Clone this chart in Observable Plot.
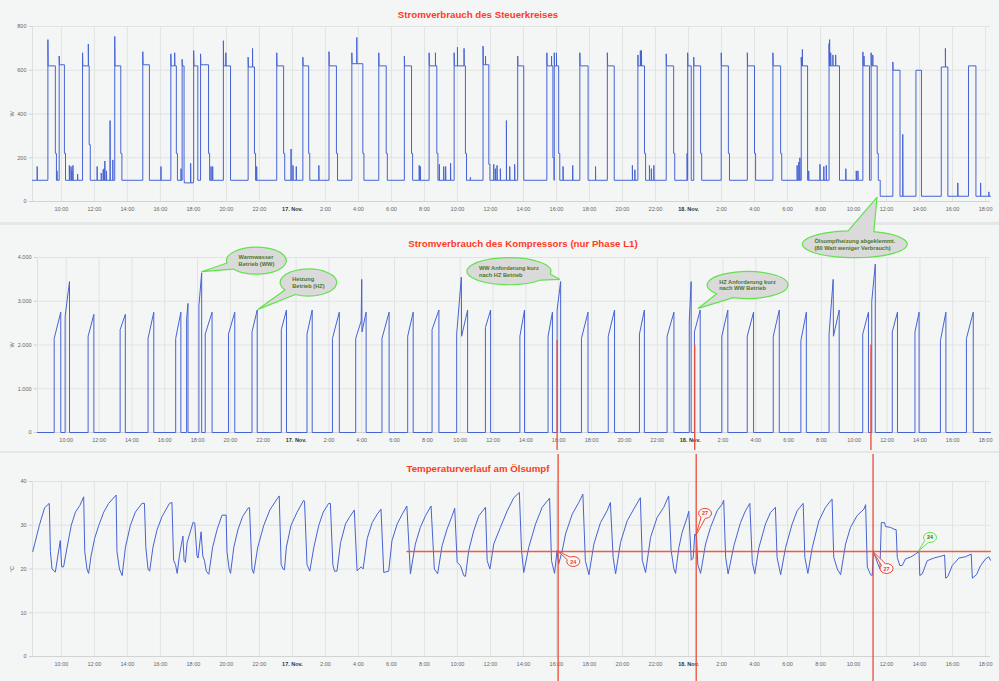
<!DOCTYPE html>
<html><head><meta charset="utf-8">
<script src="https://cdn.jsdelivr.net/npm/d3@7"></script>
<script src="https://cdn.jsdelivr.net/npm/@observablehq/plot@0.6"></script>
<style>
html,body{margin:0;padding:0;background:#f4f5f5;}
#chart{position:relative;width:999px;height:681px;overflow:hidden;background:#f4f5f5;font-family:"Liberation Sans",Arial,sans-serif;}
#chart svg{overflow:visible !important;background:transparent !important;}
.panel{position:absolute;left:0;width:999px;}
.titel{position:absolute;transform:translate(-50%,-50%);white-space:nowrap;font-weight:bold;font-size:9.7px;color:#ff3b24;z-index:2;}
.trenner{position:absolute;left:0;width:999px;background:#e5e6e6;}
</style></head>
<body><div id="chart"></div>
<script>
// ---------- Daten ----------
const zeitraum = ["16 08:15", "18 18:18"];
const xTickZeiten = ["16 10:00","16 12:00","16 14:00","16 16:00","16 18:00","16 20:00","16 22:00",
  "17 00:00","17 02:00","17 04:00","17 06:00","17 08:00","17 10:00","17 12:00","17 14:00","17 16:00","17 18:00","17 20:00","17 22:00",
  "18 00:00","18 02:00","18 04:00","18 06:00","18 08:00","18 10:00","18 12:00","18 14:00","18 16:00","18 18:00"];
const titel = ["Stromverbrauch des Steuerkreises", "Stromverbrauch des Kompressors (nur Phase L1)", "Temperaturverlauf am Ölsumpf"];
const steuerTicks = [0, 200, 400, 600, 800];
const kompressorTicks = [0, 1000, 2000, 3000, 4000];
const temperaturTicks = [0, 10, 20, 30, 40];

// Steuerkreis: Grundlast-Wechsel [Zeit, W]
const steuerGrundlast = [["16 08:15", 97], ["16 17:27", 85], ["16 18:00", 97], ["18 11:37", 24]];
// Steuerkreis: Laufphasen [Beginn, Ende, Plateau W, Anlaufspitze W, Nachlauf W]
const steuerPhasen = [
 ["16 09:11","16 09:38",620,740,220],["16 09:52","16 10:11",625,665,220],["16 11:17","16 11:41",620,680,260],
 ["16 13:14","16 13:36",620,755,220],["16 14:56","16 15:20",625,685,null],["16 16:38","16 16:58",620,675,220],
 ["16 17:19","16 17:26",620,650,null],["16 18:01","16 18:16",620,690,null],["16 18:26","16 18:55",625,675,220],
 ["16 19:49","16 20:15",620,735,null],["16 21:19","16 21:42",615,660,220],["16 23:03","16 23:28",620,680,220],
 ["17 00:38","17 00:59",620,660,220],["17 02:13","17 02:40",620,685,220],["17 03:36","17 04:16",630,680,220],
 ["17 05:14","17 05:41",620,680,220],["17 06:47","17 07:13",620,665,220],["17 08:17","17 08:45",620,680,220],
 ["17 09:48","17 10:29",620,680,220],["17 11:33","17 11:54",625,710,170],["17 13:39","17 14:01",620,665,null],
 ["17 15:25","17 15:47",620,680,200],["17 15:52","17 16:08",620,680,220],["17 17:25","17 17:55",620,680,null],
 ["17 19:05","17 19:30",620,680,null],["17 20:56","17 21:20",620,670,220],["17 22:39","17 23:06",620,675,220],
 ["17 23:57","18 00:10",620,680,null],["18 00:19","18 00:44",620,660,220],["18 01:59","18 02:25",620,680,220],
 ["18 03:34","18 04:00",620,680,220],["18 05:07","18 05:35",620,680,220],["18 06:50","18 07:13",620,660,null],
 ["18 08:31","18 09:09",620,722,null],["18 10:34","18 10:58",620,684,null],["18 11:04","18 11:26",620,680,220],
 ["18 12:23","18 12:49",600,638,null],["18 13:47","18 14:07",600,600,null],["18 15:19","18 15:43",615,615,null],
 ["18 16:58","18 17:25",620,620,null]
];
// Steuerkreis: kurze Spitzen [Zeit, W]
const steuerSpitzen = [
 ["16 08:32",160],["16 09:44",140],["16 10:29",165],["16 10:35",160],["16 10:38",140],["16 10:42",165],["16 10:59",125],
 ["16 11:38",720],["16 12:10",160],["16 12:25",130],["16 12:32",145],["16 12:35",150],["16 12:38",185],["16 12:44",140],
 ["16 12:57",370],["16 13:07",190],["16 16:02",160],["16 16:52",680],["16 17:15",150],["16 17:50",175],["16 19:04",160],
 ["16 19:10",160],["16 19:58",680],["16 21:35",700],["16 21:50",160],["16 23:55",240],["17 00:02",165],["17 00:14",160],
 ["17 01:36",165],["17 03:54",750],["17 07:41",165],["17 07:45",160],["17 08:40",680],["17 08:54",170],["17 09:10",160],
 ["17 09:17",160],["17 09:35",175],["17 10:00",705],["17 10:24",700],["17 10:47",110],["17 11:42",665],["17 12:12",170],
 ["17 12:18",150],["17 12:24",165],["17 12:36",150],["17 12:58",370],["17 13:10",160],["17 13:28",170],["17 15:42",665],
 ["17 16:00",680],["17 16:24",160],["17 16:59",165],["17 18:22",160],["17 20:36",165],["17 20:45",145],["17 21:05",690],
 ["17 21:09",690],["17 21:38",165],["17 21:45",150],["17 21:54",165],["17 23:55",220],["18 06:35",165],["18 06:41",180],
 ["18 06:45",200],["18 06:54",695],["18 07:17",140],["18 07:58",170],["18 08:12",160],["18 08:21",165],["18 08:33",740],
 ["18 08:37",680],["18 08:45",670],["18 08:55",670],["18 09:32",150],["18 10:10",140],["18 10:16",140],["18 10:38",665],
 ["18 11:10",670],["18 12:59",307],["18 15:34",700],["18 16:19",85],["18 17:42",85],["18 18:12",44]
];

// Kompressor: Laeufe als Punktfolgen [Zeit, W]
const kompressorLaeufe = [
 [["16 09:16",2150],["16 09:40",2750]],[["16 09:56",2650],["16 10:12",3450]],[["16 11:20",2200],["16 11:41",2700]],
 [["16 13:17",2350],["16 13:36",2700]],[["16 14:59",2150],["16 15:20",2750]],[["16 16:40",2150],["16 16:59",2750]],
 [["16 17:20",2600],["16 17:25",2950]],[["16 18:05",2900],["16 18:15",3650]],[["16 18:28",2250],["16 18:53",2750]],
 [["16 19:53",2250],["16 20:16",2750]],[["16 21:19",2300],["16 21:38",2800]],[["16 23:06",2350],["16 23:25",2800]],
 [["17 00:40",2250],["17 00:59",2800]],[["17 02:13",2150],["17 02:38",2750]],
 [["17 03:38",2150],["17 03:58",2550],["17 04:00",3500],["17 04:01",2300],["17 04:16",2750]],
 [["17 05:14",2150],["17 05:40",2750]],[["17 06:48",2200],["17 07:08",2750]],[["17 08:17",2350],["17 08:42",2800]],
 [["17 09:47",2250],["17 10:04",3550],["17 10:05",2200],["17 10:27",2800]],
 [["17 11:32",2400],["17 11:51",2800]],[["17 13:38",2200],["17 13:55",2800]],[["17 15:21",2200],["17 15:37",2750]],
 [["17 15:54",2800],["17 16:07",3450]],[["17 17:23",2150],["17 17:47",2750]],[["17 19:01",2200],["17 19:24",2800]],
 [["17 20:55",2250],["17 21:13",2800]],[["17 22:36",2200],["17 23:01",2750]],[["17 23:57",2550],["18 00:04",3450]],
 [["18 00:16",2300],["18 00:37",2800]],[["18 01:56",2200],["18 02:18",2800]],[["18 03:29",2200],["18 03:52",2750]],
 [["18 05:04",2200],["18 05:26",2800]],[["18 06:45",2100],["18 07:05",2750]],
 [["18 08:28",2250],["18 08:43",3500],["18 08:44",2200],["18 09:05",2800]],
 [["18 10:31",2250],["18 10:52",2750]],[["18 11:04",3000],["18 11:17",3850]],[["18 12:19",2300],["18 12:38",2750]],
 [["18 13:42",2300],["18 13:57",2750]],[["18 15:15",2100],["18 15:35",2750]],[["18 16:50",2150],["18 17:15",2750]]
];

// Oelsumpf-Temperatur [Zeit, °C]
const oelsumpfTemperatur = [
 ["16 08:16",24],["16 08:40",30],["16 08:59",34],["16 09:16",35],["16 09:20",24],["16 09:26",20],["16 09:38",19.3],["16 09:56",26.5],
 ["16 10:01",20.5],["16 10:08",20.5],["16 10:21",25],["16 10:36",30],["16 10:51",33],["16 11:07",34.5],["16 11:21",36.5],["16 11:25",24],
 ["16 11:33",20],["16 11:39",19],["16 11:48",23],["16 12:01",27],["16 12:16",30],["16 12:34",33],["16 12:52",35],["16 13:19",36.9],
 ["16 13:22",24],["16 13:31",20],["16 13:41",18.5],["16 13:53",25],["16 14:11",30],["16 14:29",33],["16 14:53",35],["16 15:02",35],
 ["16 15:07",25],["16 15:15",20],["16 15:21",19.5],["16 15:33",25],["16 15:48",29],["16 16:06",32],["16 16:33",35],["16 16:42",35.2],
 ["16 16:48",22],["16 16:55",21],["16 17:01",19],["16 17:09",23],["16 17:16",25.5],["16 17:22",27.5],["16 17:26",22],["16 17:31",21.5],
 ["16 17:37",26],["16 17:59",30.7],["16 18:05",30.5],["16 18:13",23],["16 18:17",22.5],["16 18:28",28.5],["16 18:34",23],["16 18:40",22],
 ["16 18:47",19.5],["16 18:56",18.8],["16 19:10",25],["16 19:26",29],["16 19:44",32.3],["16 19:59",32.3],["16 20:02",24],["16 20:10",20],
 ["16 20:15",19],["16 20:27",25],["16 20:42",29],["16 20:59",32],["16 21:20",34],["16 21:24",34],["16 21:33",20],["16 21:39",19],
 ["16 21:54",25],["16 22:16",30],["16 22:38",33.5],["16 23:04",36],["16 23:12",36.7],["16 23:19",21],["16 23:26",20],["16 23:31",19.8],
 ["16 23:38",25],["16 23:55",30],["17 00:17",33],["17 00:41",35.7],["17 00:44",35.5],["17 00:53",21],["17 01:03",19.5],["17 01:18",25],
 ["17 01:36",30],["17 01:52",33],["17 02:12",35],["17 02:18",35],["17 02:27",21],["17 02:33",19.5],["17 02:42",19.5],["17 02:55",26],
 ["17 03:13",30.3],["17 03:27",31.8],["17 03:43",33.3],["17 03:45",33.5],["17 03:55",19.6],["17 04:10",20.5],["17 04:17",20],["17 04:32",27],
 ["17 04:50",30.6],["17 05:08",32.5],["17 05:22",33.7],["17 05:32",19.2],["17 05:50",19.5],["17 06:02",26.5],["17 06:21",30.3],["17 06:39",32.5],
 ["17 06:56",34.4],["17 07:09",18.9],["17 07:27",25.7],["17 07:45",29.5],["17 08:04",32.2],["17 08:24",34.4],["17 08:36",20],["17 08:48",18.9],
 ["17 09:04",25.3],["17 09:22",29.1],["17 09:41",32.2],["17 09:50",33.9],["17 09:59",21.5],["17 10:11",20.8],["17 10:23",18.5],["17 10:29",18.3],
 ["17 10:41",24.2],["17 10:59",28.7],["17 11:18",32.2],["17 11:42",34.1],["17 11:48",21.9],["17 11:58",20],["17 12:12",25.7],["17 12:36",29.5],
 ["17 13:01",33.3],["17 13:25",36.3],["17 13:45",37.5],["17 13:53",24.2],["17 14:01",19.2],["17 14:19",24.9],["17 14:44",30.3],["17 15:08",34.1],
 ["17 15:35",36.2],["17 15:42",21.9],["17 15:53",19],["17 16:02",24.2],["17 16:08",21.1],["17 16:21",24.2],["17 16:33",28],["17 16:57",32.5],
 ["17 17:21",35.2],["17 17:36",37.1],["17 17:45",21.9],["17 17:58",18.7],["17 18:16",25.7],["17 18:40",30.6],["17 19:04",33.3],["17 19:16",35.2],
 ["17 19:26",22.7],["17 19:35",18.9],["17 19:53",26.1],["17 20:17",31],["17 20:41",33.7],["17 21:05",36.3],["17 21:12",22],["17 21:24",19.2],
 ["17 21:42",27.2],["17 22:06",31.8],["17 22:30",34.1],["17 22:48",36.7],["17 22:57",24.2],["17 23:07",20],["17 23:13",19],["17 23:25",24.9],
 ["17 23:37",28.4],["17 23:55",31.8],["18 00:01",33.2],["18 00:10",22],["18 00:17",22.5],["18 00:23",28],["18 00:29",27.5],["18 00:34",21],
 ["18 00:44",19],["18 01:02",25.7],["18 01:20",29.5],["18 01:44",33.3],["18 02:02",34.8],["18 02:08",35.7],["18 02:15",22.7],["18 02:24",18.9],
 ["18 02:45",25.3],["18 03:09",30.6],["18 03:27",33.3],["18 03:43",35],["18 03:52",21.5],["18 04:01",18.9],["18 04:16",24.9],["18 04:40",30.3],
 ["18 04:58",32.9],["18 05:16",34.1],["18 05:22",22.7],["18 05:35",18.7],["18 05:53",24.9],["18 06:17",30.3],["18 06:35",33.3],["18 06:57",35],
 ["18 07:03",22.7],["18 07:14",19],["18 07:30",24.9],["18 07:54",31],["18 08:18",34.1],["18 08:42",36],["18 08:48",22.7],["18 09:01",20],
 ["18 09:13",18.7],["18 09:31",25.7],["18 09:49",29.5],["18 10:13",32.2],["18 10:38",33.7],["18 10:44",34.7],["18 10:50",20.5],["18 11:02",18.7],
 ["18 11:08",18.5],["18 11:12",23.8],["18 11:20",22.7],["18 11:29",21.1],["18 11:36",20],["18 11:41",30.6],["18 11:53",30.6],["18 11:56",29.7],
 ["18 12:15",29.5],["18 12:27",29.1],["18 12:35",29],["18 12:39",22.7],["18 12:48",20.8],["18 12:57",20.8],["18 13:09",22.3],["18 13:27",22.7],
 ["18 13:45",23.4],["18 13:58",24],["18 14:01",18.5],["18 14:10",18.9],["18 14:28",21.9],["18 14:52",22.5],["18 15:22",23],["18 15:31",23.2],
 ["18 15:35",17.9],["18 15:43",18.3],["18 15:59",20.8],["18 16:23",22.5],["18 16:47",22.8],["18 17:08",23.4],["18 17:12",17.9],["18 17:27",18.7],
 ["18 17:42",20.8],["18 18:00",22.3],["18 18:12",22.8],["18 18:18",22]
];

// Markierungen
const kompressorMarker = [["17 15:54", 2100], ["18 00:17", 2000], ["18 11:01", 2000]];
const temperaturMarker = ["17 16:06", "18 00:28", "18 11:11"];
const referenzWert = 24;
const referenzZeiten = ["17 06:57", "18 18:17"];
const kompressorHinweise = [
 {text: ["Warmwasser", "Betrieb (WW)"], x: "16 21:37", y: 3915, spitzeX: "16 18:17", spitzeY: 3664},
 {text: ["Heizung", "Betrieb (HZ)"], x: "17 00:47", y: 3417, spitzeX: "16 21:43", spitzeY: 2804},
 {text: ["WW Anforderung kurz", "nach HZ Betrieb"], x: "17 13:00", y: 3675, spitzeX: "17 16:05", spitzeY: 3490},
 {text: ["HZ Anforderung kurz", "nach WW Betrieb"], x: "18 03:32", y: 3360, spitzeX: "18 00:32", spitzeY: 2827},
 {text: ["Ölsumpfheizung abgeklemmt.", "(80 Watt weniger Verbrauch)"], x: "18 10:04", y: 4293, spitzeX: "18 11:25", spitzeY: 5365}
];
const temperaturHinweise = [
 {text: ["24"], x: "17 17:03", y: 21.6, spitzeX: "17 16:06", spitzeY: 24, art: "rot"},
 {text: ["27"], x: "18 01:02", y: 32.6, spitzeX: "18 00:28", spitzeY: 27.5, art: "rot"},
 {text: ["27"], x: "18 12:02", y: 20, spitzeX: "18 11:11", spitzeY: 24, art: "rot"},
 {text: ["24"], x: "18 14:40", y: 27.1, spitzeX: "18 13:58", spitzeY: 24, art: "gruen"}
];

// ---------- Hilfen ----------
const T = s => { const [d, hm] = s.split(" "); const [h, m] = hm.split(":").map(Number); return new Date(Date.UTC(2023, 10, +d, h, m)); };
const MIN = 60000;
const FONT = "'Liberation Sans', Arial, sans-serif";
const BLAU = "#4663d4", ROT = "#ec4a36", GRID = "#e2e3e3";
const xDomain = zeitraum.map(T);
const xTicks = xTickZeiten.map(T);
const normalTicks = xTicks.filter(d => d.getUTCHours() !== 0);
const mitternacht = xTicks.filter(d => d.getUTCHours() === 0);
const fmtX = d => d.getUTCHours() === 0 ? `${d.getUTCDate()}. Nov.` : `${d.getUTCHours()}:00`;
const fmtW = d => d === 0 ? "0" : d3.format(",")(d).replace(/,/g, ".");

// Steuerkreis-Reihe aus Phasen/Spitzen
function steuerReihe() {
  const phasen = steuerPhasen.map(([a, e, p, s, n]) => ({a: T(a), e: T(e), p, s, n}));
  const grund = steuerGrundlast.map(([z, w]) => [T(z), w]);
  const basis = t => { let v = grund[0][1]; for (const [z, w] of grund) if (z <= t) v = w; return v; };
  const niveau = t => { const q = phasen.find(q => q.a <= t && t <= q.e); return q ? q.p : basis(t); };
  const pts = [{t: xDomain[0], v: basis(xDomain[0])}];
  for (const q of phasen) {
    pts.push({t: q.a, v: basis(q.a)}, {t: q.a, v: q.s}, {t: new Date(+q.a + MIN), v: q.p}, {t: q.e, v: q.p});
    if (q.n != null) { const e2 = new Date(+q.e + 4 * MIN); pts.push({t: q.e, v: q.n}, {t: e2, v: q.n}, {t: e2, v: basis(e2)}); }
    else pts.push({t: q.e, v: basis(q.e)});
  }
  for (const [z, w] of steuerSpitzen) { const t = T(z), b = niveau(t); pts.push({t, v: b}, {t, v: w}, {t: new Date(+t + MIN / 2), v: b}); }
  for (const [z, w] of grund.slice(1)) pts.push({t: z, v: basis(new Date(+z - 1))}, {t: z, v: w});
  pts.push({t: xDomain[1], v: basis(xDomain[1])});
  return pts.map((p, i) => ({...p, i})).sort((a, b) => a.t - b.t || a.i - b.i);
}
function kompressorReihe() {
  const pts = [{t: xDomain[0], v: 0}];
  for (const lauf of kompressorLaeufe) {
    pts.push({t: T(lauf[0][0]), v: 0}, ...lauf.map(([z, w]) => ({t: T(z), v: w})), {t: T(lauf[lauf.length - 1][0]), v: 0});
  }
  pts.push({t: xDomain[1], v: 0});
  return pts;
}
const temperaturReihe = oelsumpfTemperatur.map(([z, w]) => ({t: T(z), v: w}));
const referenzReihe = referenzZeiten.map(z => ({t: T(z), v: referenzWert}));

// Sprechblasen als Render-Funktion (nutzt die Plot-Skalen)
const ctx2d = document.createElement("canvas").getContext("2d");
const breite = (s, size) => { ctx2d.font = `bold ${size}px 'Liberation Sans'`; return ctx2d.measureText(s).width; };
const blasenStil = {
  gross: {fill: "#dadada", stroke: "#62e24c", sw: 1.2, textFill: "#4f7428", fontSize: 5.7, lineH: 6.7, padX: 12, ry: 13.5, delta: 0.25},
  rot: {fill: "#fdf6f4", stroke: "#ea4a36", sw: 1, textFill: "#e33a25", fontSize: 5.4, lineH: 6, rx: 6.5, ry: 5, delta: 0.35},
  gruen: {fill: "#f2faee", stroke: "#62e24c", sw: 1, textFill: "#3e6a1e", fontSize: 5.4, lineH: 6, rx: 6.5, ry: 5, delta: 0.35}
};
function blasen(items) {
  return (index, scales) => {
    const g = d3.create("svg:g");
    for (const it of items) {
      const s = blasenStil[it.art || "gross"];
      const cx = scales.x(T(it.x)), cy = scales.y(it.y);
      const tx = scales.x(T(it.spitzeX)), ty = scales.y(it.spitzeY);
      const w = Math.max(...it.text.map(z => breite(z, s.fontSize)));
      const rx = s.rx ?? w / 2 + s.padX, ry = s.ry;
      const th = Math.atan2((ty - cy) / ry, (tx - cx) / rx);
      const p = a => [cx + rx * Math.cos(a), cy + ry * Math.sin(a)];
      const a1 = p(th + s.delta), a2 = p(th - s.delta);
      g.append("path")
        .attr("d", `M${a1[0]},${a1[1]}A${rx},${ry} 0 1 1 ${a2[0]},${a2[1]}L${tx},${ty}Z`)
        .attr("fill", s.fill).attr("stroke", s.stroke).attr("stroke-width", s.sw).attr("stroke-linejoin", "round");
      const text = g.append("text").attr("fill", s.textFill).attr("font-weight", "bold")
        .attr("font-size", s.fontSize).attr("font-family", FONT);
      const mehr = it.text.length > 1;
      it.text.forEach((z, i) => text.append("tspan")
        .attr("x", mehr ? cx - w / 2 : cx).attr("text-anchor", mehr ? "start" : "middle")
        .attr("y", cy + (i - (it.text.length - 1) / 2) * s.lineH).attr("dominant-baseline", "central").text(z));
    }
    return g.node();
  };
}

function panel({height, marginTop, marginBottom, marginLeft, yDomain, yTicks, yFormat, yLabel, labelOffset, marks}) {
  return Plot.plot({
    width: 999, height, marginTop, marginBottom, marginLeft, marginRight: 9,
    x: {type: "utc", domain: xDomain},
    y: {domain: yDomain},
    style: {background: "transparent", overflow: "visible", fontFamily: FONT, fontSize: "5.5px", color: "#666"},
    marks: [
      Plot.gridY(yTicks, {stroke: GRID, strokeOpacity: 1}),
      Plot.gridX(xTicks, {stroke: GRID, strokeOpacity: 1}),
      Plot.ruleX([xDomain[0]], {stroke: "#dedfdf"}),
      Plot.ruleY([0], {stroke: "#d2d3d3"}),
      Plot.axisY(yTicks, {tickSize: 3, tickPadding: 3, tickFormat: yFormat, label: yLabel, labelAnchor: "center",
        labelOffset, labelArrow: "none", stroke: "#d0d0d0", fill: "#666"}),
      Plot.axisX(normalTicks, {tickSize: 0, tickPadding: 6, tickFormat: fmtX, label: null, fill: "#666"}),
      Plot.axisX(mitternacht, {tickSize: 0, tickPadding: 6, tickFormat: fmtX, label: null, fill: "#333", fontWeight: "bold"}),
      ...marks
    ]
  });
}

// ---------- Aufbau ----------
const chart = document.getElementById("chart");
function trenner(top, h) { const d = document.createElement("div"); d.className = "trenner"; d.style.top = top + "px"; d.style.height = h + "px"; chart.appendChild(d); }
trenner(222, 3); trenner(451, 2);

function addPanel(top, svg, titelText, tx, ty) {
  const div = document.createElement("div");
  div.className = "panel"; div.style.top = top + "px";
  div.appendChild(svg);
  const t = document.createElement("div");
  t.className = "titel"; t.textContent = titelText; t.style.left = tx + "px"; t.style.top = ty + "px";
  div.appendChild(t);
  chart.appendChild(div);
}

const p1 = panel({height: 222, marginTop: 26, marginBottom: 21, marginLeft: 32, yDomain: [0, 800], yTicks: steuerTicks,
  yFormat: d => String(d), yLabel: "W", labelOffset: 22,
  marks: [Plot.line(steuerReihe(), {x: "t", y: "v", stroke: BLAU, strokeWidth: 1})]});
addPanel(0, p1, titel[0], 478, 14);

const p2 = panel({height: 225, marginTop: 32, marginBottom: 18, marginLeft: 37, yDomain: [0, 4000], yTicks: kompressorTicks,
  yFormat: fmtW, yLabel: "W", labelOffset: 27,
  marks: [
    Plot.line(kompressorReihe(), {x: "t", y: "v", stroke: BLAU, strokeWidth: 1}),
    Plot.ruleX(kompressorMarker, {x: d => T(d[0]), y1: d => d[1], y2: 0, insetBottom: -18, stroke: ROT, strokeWidth: 1.3}),
    blasen(kompressorHinweise)
  ]});
addPanel(225, p2, titel[1], 523, 18);

const p3 = panel({height: 227, marginTop: 27, marginBottom: 25, marginLeft: 32, yDomain: [0, 40], yTicks: temperaturTicks,
  yFormat: d => String(d), yLabel: "°C", labelOffset: 22,
  marks: [
    Plot.line(temperaturReihe, {x: "t", y: "v", stroke: BLAU, strokeWidth: 1}),
    Plot.line(referenzReihe, {x: "t", y: "v", stroke: ROT, strokeWidth: 1.5, strokeOpacity: 0.9}),
    Plot.ruleX(temperaturMarker, {x: d => T(d), insetTop: -27, insetBottom: -25, stroke: ROT, strokeWidth: 1.3}),
    blasen(temperaturHinweise)
  ]});
addPanel(454, p3, titel[2], 478, 14);
</script>
</body></html>
